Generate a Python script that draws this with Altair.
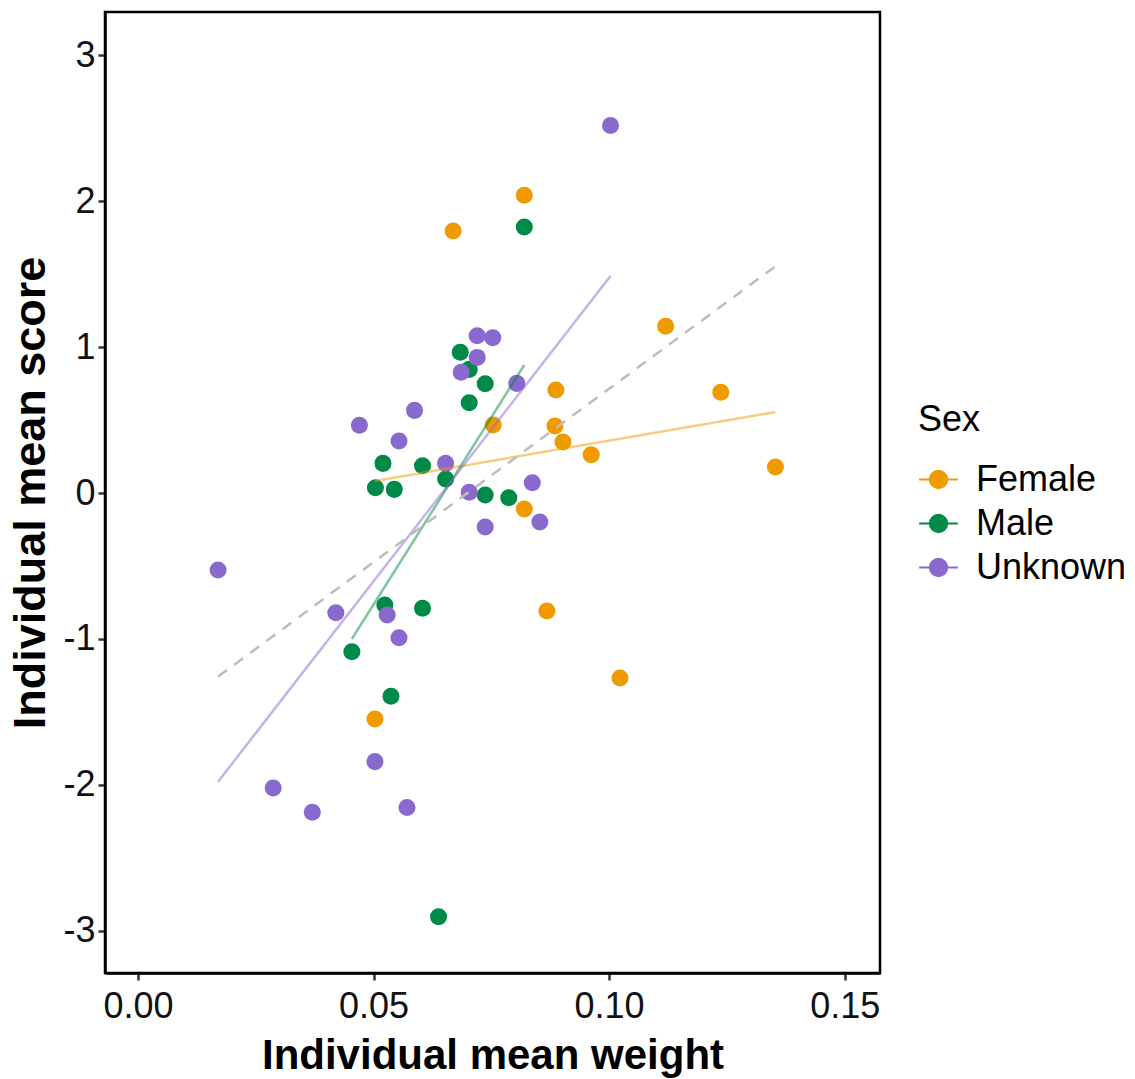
import altair as alt
import pandas as pd

# Individual means: weight (x) and score (y), per sex
female_weight = [0.0669, 0.0820, 0.0754, 0.0887, 0.0885, 0.0902, 0.0962, 0.1120,
                 0.1237, 0.1353, 0.0820, 0.0868, 0.1023, 0.0503]
female_score = [1.795, 2.040, 0.466, 0.705, 0.459, 0.349, 0.262, 1.142,
                0.690, 0.178, -0.110, -0.808, -1.267, -1.548]

male_weight = [0.0820, 0.0684, 0.0703, 0.0737, 0.0703, 0.0520, 0.0604, 0.0504,
               0.0544, 0.0653, 0.0737, 0.0787, 0.0524, 0.0604, 0.0454, 0.0537,
               0.0638]
male_score = [1.822, 0.964, 0.847, 0.749, 0.619, 0.203, 0.187, 0.036,
              0.025, 0.096, -0.014, -0.032, -0.767, -0.790, -1.087, -1.392,
              -2.902]

unknown_weight = [0.1003, 0.0720, 0.0753, 0.0720, 0.0686, 0.0804, 0.0587, 0.0470,
                  0.0554, 0.0653, 0.0703, 0.0837, 0.0737, 0.0853, 0.0420, 0.0529,
                  0.0554, 0.0170, 0.0503, 0.0287, 0.0370, 0.0571]
unknown_score = [2.518, 1.077, 1.064, 0.929, 0.827, 0.751, 0.566, 0.464,
                 0.356, 0.203, 0.005, 0.071, -0.233, -0.199, -0.820, -0.836,
                 -0.991, -0.527, -1.840, -2.021, -2.187, -2.155]

sex_levels = ["Female", "Male", "Unknown"]
sex_colors = ["#EF9B00", "#008A47", "#8A69CF"]

x_ticks = [0.0, 0.05, 0.10, 0.15]
y_ticks = [-3, -2, -1, 0, 1, 2, 3]

rows = []
for sex, xs, ys in [("Female", female_weight, female_score),
                    ("Male", male_weight, male_score),
                    ("Unknown", unknown_weight, unknown_score)]:
    rows += [{"Sex": sex, "weight": x, "score": y} for x, y in zip(xs, ys)]
df = pd.DataFrame(rows)

FONT = "Liberation Sans"

x_enc = alt.X("weight:Q",
              scale=alt.Scale(domain=[-0.007, 0.1575], nice=False, zero=False),
              axis=alt.Axis(title="Individual mean weight", values=x_ticks,
                            format=".2f", titleFontSize=42, labelPadding=9,
                            titlePadding=11))
y_enc = alt.Y("score:Q",
              scale=alt.Scale(domain=[-3.288, 3.295], nice=False, zero=False),
              axis=alt.Axis(title="Individual mean score", values=y_ticks,
                            labelExpr="toString(datum.value)",
                            titleFontSize=45, labelPadding=3,
                            titlePadding=9))
color_enc = alt.Color(
    "Sex:N",
    scale=alt.Scale(domain=sex_levels, range=sex_colors),
    legend=alt.Legend(
        title="Sex",
        orient="none",
        legendX=813,
        legendY=391,
        symbolType="M-1,0L1,0M-0.45,0A0.45,0.45,0,1,1,0.45,0A0.45,0.45,0,1,1,-0.45,0Z",
        symbolSize=1500,
        symbolStrokeWidth=2,
        symbolOpacity=1,
        labelFontSize=36,
        titleFontSize=36,
        titleFontWeight="normal",
        labelFont=FONT,
        titleFont=FONT,
        labelColor="black",
        titleColor="black",
        rowPadding=5,
        titlePadding=20,
        labelOffset=17,
    ),
)

base = alt.Chart(df)

points = base.mark_point(filled=True, size=290, opacity=1).encode(
    x=x_enc, y=y_enc, color=color_enc
)

# Per-sex linear fits
group_fits = base.transform_regression(
    "weight", "score", groupby=["Sex"], method="linear"
).mark_line(strokeWidth=2.5, opacity=0.5).encode(
    x="weight:Q", y="score:Q", color=alt.Color("Sex:N", legend=None)
)

# Pooled linear fit
overall_fit = base.transform_regression(
    "weight", "score", method="linear"
).mark_line(strokeWidth=2.5, color="#BDBDBD", strokeDash=[11, 9]).encode(
    x="weight:Q", y="score:Q"
)

chart = alt.layer(points, group_fits, overall_fit).properties(
    width=775,
    height=961,
    autosize=alt.AutoSizeParams(type="none"),
    padding={"left": 105, "top": 12, "right": 255, "bottom": 106},
    background="white",
).configure_view(
    stroke="black", strokeWidth=2.5
).configure_axis(
    grid=False,
    domainColor="black",
    domainWidth=2.5,
    tickColor="#333333",
    tickWidth=2.5,
    tickSize=7,
    labelFont=FONT,
    titleFont=FONT,
    labelFontSize=36,
    labelColor="#111111",
    titleFontWeight="bold",
    titleColor="black",
)

chart.save("out.html", embed_options={"renderer": "svg", "actions": False})
